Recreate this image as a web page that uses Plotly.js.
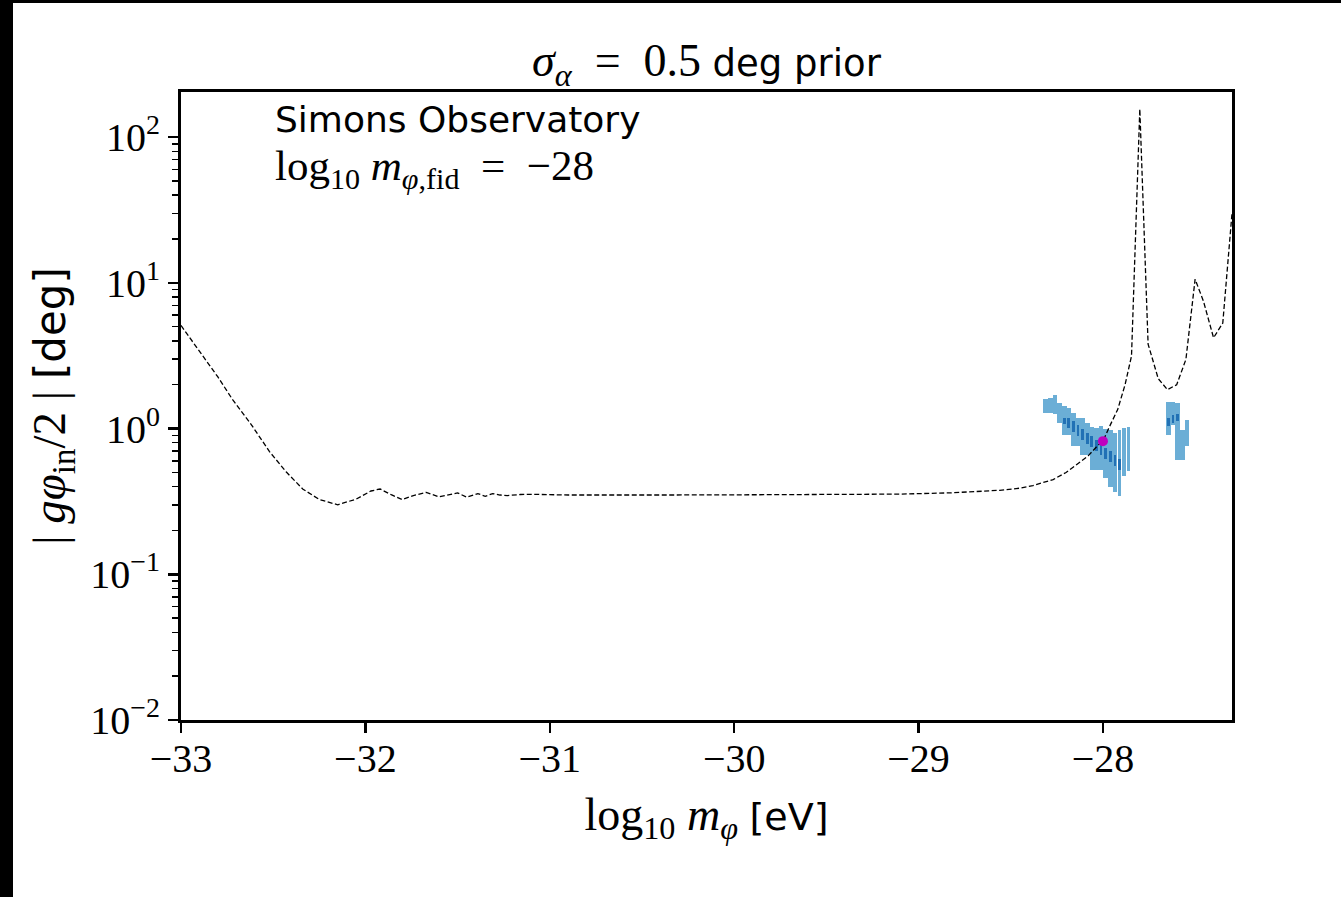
<!DOCTYPE html>
<html>
<head>
<meta charset="utf-8">
<script src="https://cdn.plot.ly/plotly-3.0.1.min.js"></script>
<style>
  html, body { margin: 0; padding: 0; background: #000; width: 1341px; height: 897px; overflow: hidden; }
  #chart { position: absolute; left: 13px; top: 3px; width: 1328px; height: 894px; background: #fff; }
</style>
</head>
<body>
<div id="chart"></div>
<script>
// ---- dashed sensitivity curve: log10 m_phi [eV] vs |g phi_in / 2| [deg]
const curveX = [-33.00, -32.95, -32.88, -32.80, -32.72, -32.62, -32.52, -32.43, -32.34, -32.25,
  -32.15, -32.05, -31.97, -31.92, -31.86, -31.80, -31.74, -31.67, -31.60, -31.55,
  -31.50, -31.45, -31.39, -31.35, -31.31, -31.27, -31.23, -31.16, -31.09, -30.90,
  -30.73, -30.40, -30.00, -29.60, -29.37, -29.10, -28.83, -28.70, -28.56, -28.45,
  -28.38, -28.27, -28.20, -28.14, -28.08, -28.03, -28.00, -27.96, -27.92, -27.88,
  -27.845, -27.80, -27.755, -27.70, -27.65, -27.60, -27.55, -27.50, -27.455, -27.40,
  -27.35, -27.30];
const curveY = [5.1, 4.17, 3.12, 2.26, 1.58, 1.07, 0.695, 0.505, 0.385, 0.326,
  0.300, 0.328, 0.373, 0.385, 0.352, 0.326, 0.347, 0.365, 0.340, 0.352,
  0.362, 0.338, 0.358, 0.343, 0.358, 0.350, 0.347, 0.353, 0.354, 0.350,
  0.349, 0.350, 0.351, 0.351, 0.351, 0.355, 0.362, 0.368, 0.377, 0.390,
  0.406, 0.447, 0.500, 0.570, 0.650, 0.760, 0.820, 1.06, 1.35, 2.0,
  3.15, 156, 3.8, 2.2, 1.85, 2.0, 2.98, 10.6, 7.5, 4.2,
  5.3, 30];

// ---- posterior region (95%, light) : column centres and lower / upper edges
const lightX  = [-28.31, -28.285, -28.26, -28.235, -28.21, -28.185, -28.16, -28.135, -28.11, -28.085,
  -28.06, -28.035, -28.01, -27.985, -27.96, -27.645, -27.62, -27.595, -27.57, -27.545];
const lightLo = [1.28, 1.28, 1.26, 1.09, 0.91, 0.91, 0.76, 0.76, 0.66, 0.66,
  0.52, 0.52, 0.52, 0.46, 0.40, 0.91, 1.065, 0.61, 0.61, 0.755];
const lightHi = [1.60, 1.62, 1.71, 1.50, 1.42, 1.39, 1.28, 1.18, 1.18, 1.09,
  1.02, 1.01, 1.05, 1.00, 0.985, 1.52, 1.52, 1.50, 0.985, 1.14];
// thin tail stripes of the 95% region
const stripeX  = [-27.935, -27.91, -27.885, -27.862];
const stripeLo = [0.37, 0.345, 0.47, 0.51];
const stripeHi = [0.93, 0.985, 1.01, 1.03];
// ---- posterior region (68%, dark)
const darkX  = [-28.21, -28.185, -28.16, -28.135, -28.11, -28.085, -28.06, -28.035, -28.01, -27.985,
  -27.96, -27.935, -27.91, -27.645, -27.62, -27.595];
const darkLo = [1.07, 1.01, 0.95, 0.89, 0.84, 0.79, 0.75, 0.70, 0.66, 0.62,
  0.59, 0.55, 0.52, 1.04, 1.09, 1.13];
const darkHi = [1.19, 1.19, 1.12, 1.06, 1.00, 0.94, 0.89, 0.84, 0.79, 0.74,
  0.70, 0.66, 0.62, 1.18, 1.23, 1.26];

// ---- fiducial point
const fidX = [-28.0];
const fidY = [0.82];

// ---- tick labels
const xTickVals = [-33, -32, -31, -30, -29, -28];
const yTickVals = [0.01, 0.1, 1, 10, 100];
const yTickText = ['10<sup>−2</sup>', '10<sup>−1</sup>', '10<sup>0</sup>', '10<sup>1</sup>', '10<sup>2</sup>'];
const yMinorVals = [];
[0.01, 0.1, 1, 10, 100].forEach(d => { for (let k = 2; k <= 9; k++) { const v = d * k; if (v < 199) yMinorVals.push(v); } });

const SERIF = 'Liberation Serif';
const SANS = 'DejaVu Sans';
const sans = (t, px) => '<span style="font-family:\'DejaVu Sans\';font-size:' + px + 'px">' + t + '</span>';
const NB = '\u00a0';

const span = (lo, hi) => hi.map((h, i) => h - lo[i]);

const traces = [
  { type: 'bar', x: lightX, y: span(lightLo, lightHi), base: lightLo, width: 0.025,
    marker: { color: '#6baed6', line: { width: 0 } }, hoverinfo: 'skip', showlegend: false },
  { type: 'bar', x: stripeX, y: span(stripeLo, stripeHi), base: stripeLo, width: 0.018,
    marker: { color: '#6baed6', line: { width: 0 } }, hoverinfo: 'skip', showlegend: false },
  { type: 'bar', x: darkX, y: span(darkLo, darkHi), base: darkLo, width: 0.015,
    marker: { color: '#2171b5', line: { width: 0 } }, hoverinfo: 'skip', showlegend: false },
  { type: 'scatter', mode: 'lines', x: curveX, y: curveY,
    line: { color: '#000', width: 1.3, dash: '5px,2.5px' }, showlegend: false },
  { type: 'scatter', mode: 'markers', x: fidX, y: fidY,
    marker: { color: '#bf00bf', size: 10 }, showlegend: false }
];

const layout = {
  width: 1328, height: 894,
  paper_bgcolor: '#fff', plot_bgcolor: '#fff',
  margin: { l: 168, r: 109, t: 89, b: 177 },
  barmode: 'overlay', bargap: 0,
  font: { family: SERIF, size: 40, color: '#000' },
  title: {
    text: '<i>σ</i><sub><i>α</i></sub>' + NB + NB + '=' + NB + NB + '0.5' + NB + sans('deg prior', 37),
    font: { family: SERIF, size: 46, color: '#000' },
    x: 0.5, xanchor: 'center', xref: 'paper', y: 0.936, yanchor: 'middle', yref: 'container'
  },
  xaxis: {
    type: 'linear', range: [-33, -27.3], tickmode: 'array', tickvals: xTickVals,
    showgrid: false, zeroline: false, showline: true, linecolor: '#000', linewidth: 3, mirror: true,
    ticks: 'outside', ticklen: 10, tickwidth: 2.5, tickcolor: '#000',
    tickfont: { family: SERIF, size: 40, color: '#000' }, ticklabelstandoff: -9,
    title: { text: 'log<sub>10</sub>' + NB + '<i>m</i><sub><i>φ</i></sub>' + NB + sans('[eV]', 38),
      font: { family: SERIF, size: 46, color: '#000' }, standoff: 18 }
  },
  yaxis: {
    type: 'log', range: [-2, 2.31], tickmode: 'array', tickvals: yTickVals, ticktext: yTickText,
    showgrid: false, zeroline: false, showline: true, linecolor: '#000', linewidth: 3, mirror: true,
    ticks: 'outside', ticklen: 10, tickwidth: 2.5, tickcolor: '#000',
    tickfont: { family: SERIF, size: 40, color: '#000' },
    minor: { tickmode: 'array', tickvals: yMinorVals, ticks: 'outside', ticklen: 6, tickwidth: 1.5, tickcolor: '#000', showgrid: false },
    title: { text: '|' + NB + '<i>gφ</i><sub>in</sub>/2' + NB + '|' + NB + sans('[deg]', 42),
      font: { family: SERIF, size: 47, color: '#000' }, standoff: 10 }
  },
  annotations: [
    { xref: 'paper', yref: 'paper', x: 0.0875, y: 0.956, xanchor: 'left', yanchor: 'middle', showarrow: false,
      text: 'Simons Observatory', font: { family: SANS, size: 36, color: '#000' } },
    { xref: 'paper', yref: 'paper', x: 0.0875, y: 0.877, xanchor: 'left', yanchor: 'middle', showarrow: false,
      text: 'log<sub>10</sub>' + NB + '<i>m</i><sub><i>φ</i>,fid</sub>' + NB + NB + '=' + NB + NB + '−28',
      font: { family: SERIF, size: 43, color: '#000' } }
  ]
};

Plotly.newPlot('chart', traces, layout, { displayModeBar: false, staticPlot: true });
</script>
</body>
</html>
